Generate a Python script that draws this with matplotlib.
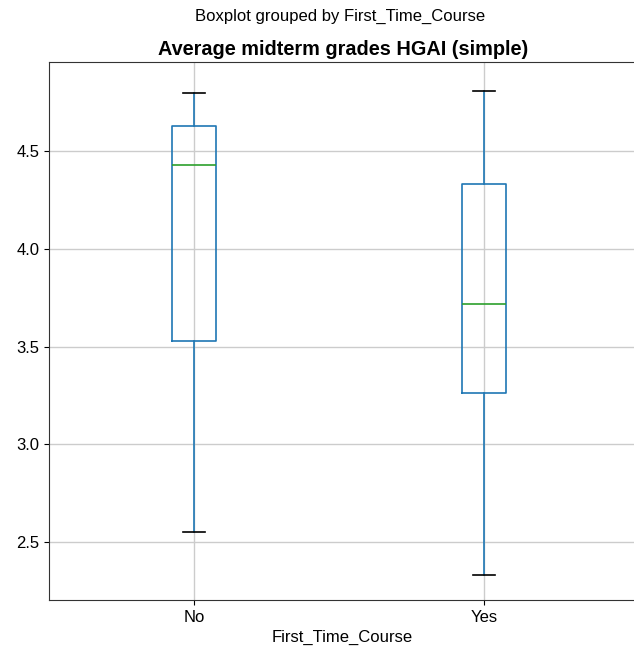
import matplotlib.pyplot as plt

plt.rcParams['font.family'] = ['Liberation Sans', 'DejaVu Sans']

groups = ["No", "Yes"]
whisker_low = [2.55, 2.33]
q1 = [3.53, 3.26]
median = [4.43, 3.72]
q3 = [4.63, 4.33]
whisker_high = [4.80, 4.81]

stats = []
for i in range(len(groups)):
    stats.append({"label": groups[i], "whislo": whisker_low[i], "q1": q1[i],
                  "med": median[i], "q3": q3[i], "whishi": whisker_high[i],
                  "fliers": []})

fig = plt.figure(figsize=(6.34, 6.48), dpi=100)
# the right edge of the axes runs just past the picture, as in the cropped original
ax = fig.add_axes([0.0775, 0.074, 0.926, 0.830])

ax.bxp(stats, positions=[1, 2], widths=0.15, showfliers=False,
       boxprops=dict(color='#1f77b4', linewidth=1.2),
       whiskerprops=dict(color='#1f77b4', linewidth=1.2),
       capprops=dict(color='black', linewidth=1.2),
       medianprops=dict(color='#2ca02c', linewidth=1.2))

ax.set_xlim(0.5, 2.524)
ax.set_ylim(2.203, 4.955)
ax.set_yticks([2.5, 3.0, 3.5, 4.0, 4.5])
ax.grid(True, color='#cccccc', linewidth=1)
ax.set_axisbelow(True)
ax.tick_params(labelsize=12)
for s in ax.spines.values():
    s.set_color('#333333')

ax.set_xlabel("First_Time_Course", fontsize=12)
ax.set_title("Average midterm grades HGAI (simple)", fontsize=14.3, fontweight='bold', pad=5.5)
fig.text(0.537, 0.986, "Boxplot grouped by First_Time_Course", ha='center', va='top', fontsize=12)

fig.savefig("out.png", dpi=100)
